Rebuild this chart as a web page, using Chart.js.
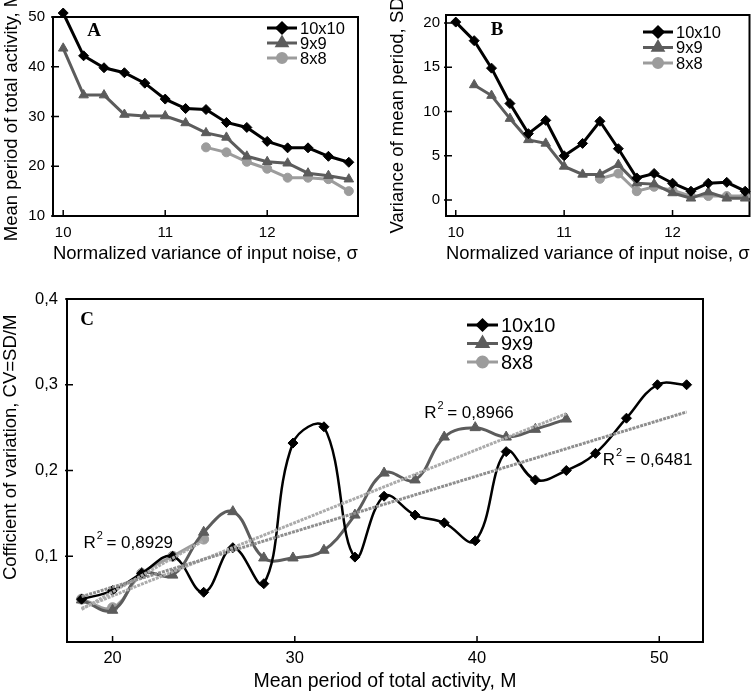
<!DOCTYPE html>
<html>
<head>
<meta charset="utf-8">
<script src="https://cdn.jsdelivr.net/npm/chart.js@4.4.1/dist/chart.umd.min.js"></script>
<style>
    html, body { margin: 0; padding: 0; background: #fff; }
    #wrap { position: relative; width: 756px; height: 694px; overflow: hidden; }
    canvas { position: absolute; }
    #chartA { left: 0; top: 0; }
    #chartB { left: 378px; top: 0; }
    #chartC { left: 0; top: 280px; }
</style>
</head>
<body>
<div id="wrap">
    <canvas id="chartA" width="378" height="270"></canvas>
    <canvas id="chartB" width="378" height="270"></canvas>
    <canvas id="chartC" width="756" height="414"></canvas>
</div>
<script>
// Panel A - mean period vs noise variance
const sigmaA = [10.0, 10.2, 10.4, 10.6, 10.8, 11.0, 11.2, 11.4, 11.6, 11.8, 12.0, 12.2, 12.4, 12.6, 12.8];
const periodA10 = [50.8, 42.2, 39.8, 38.8, 36.7, 33.5, 31.6, 31.4, 28.8, 27.8, 25.0, 23.7, 23.7, 22.0, 20.8];
const periodA9 = [43.7, 34.3, 34.3, 30.4, 30.1, 30.1, 28.7, 26.7, 25.8, 22.0, 20.9, 20.6, 18.6, 18.1, 17.4];
const periodA8 = [null, null, null, null, null, null, null, 23.8, 22.8, 20.9, 19.5, 17.7, 17.7, 17.4, 15.0];
const ticksAx = [10, 11, 12];
const ticksAy = [10, 20, 30, 40, 50];

// Panel B - SD of mean period vs noise variance
const sigmaB = [10.0, 10.17, 10.33, 10.5, 10.67, 10.83, 11.0, 11.17, 11.33, 11.5, 11.67, 11.83, 12.0, 12.17, 12.33, 12.5, 12.67];
const sdB10 = [20.1, 18.0, 14.9, 10.9, 7.5, 9.0, 5.0, 6.4, 8.9, 5.8, 2.5, 3.0, 1.9, 1.0, 1.9, 2.0, 1.0];
const sdB9 = [null, 13.0, 11.8, 9.2, 6.8, 6.4, 3.8, 2.9, 2.9, 4.0, 1.9, 1.8, 0.8, 0.2, 0.9, 0.2, 0.2];
const sdB8 = [null, null, null, null, null, null, null, null, 2.4, 3.0, 1.0, 1.5, 1.1, 0.45, 0.45, 0.45, 0.45];
const ticksBx = [10, 11, 12];
const ticksBy = [0, 5, 10, 15, 20];

// Panel C - coefficient of variation vs mean period
const periodC10 = [18.3, 20.0, 21.6, 23.3, 25.0, 26.6, 28.3, 29.9, 31.6, 33.3, 34.9, 36.6, 38.2, 39.9, 41.6, 43.2, 44.9, 46.5, 48.2, 49.9, 51.5];
const cvC10 = [0.05, 0.06, 0.08, 0.10, 0.058, 0.11, 0.068, 0.232, 0.251, 0.099, 0.17, 0.148, 0.139, 0.118, 0.222, 0.189, 0.20, 0.22, 0.261, 0.30, 0.30];
const periodC9 = [18.3, 20.0, 21.6, 23.3, 25.0, 26.6, 28.3, 29.9, 31.6, 33.3, 34.9, 36.6, 38.2, 39.9, 41.6, 43.2, 44.9];
const cvC9 = [0.049, 0.037, 0.08, 0.078, 0.128, 0.152, 0.098, 0.098, 0.107, 0.148, 0.197, 0.189, 0.239, 0.25, 0.239, 0.248, 0.26];
const periodC8 = [18.3, 20.0, 21.6, 23.3, 25.0];
const cvC8 = [0.05, 0.04, 0.08, 0.10, 0.12];
const r2Labels = ['0,6481', '0,8966', '0,8929'];
const ticksCx = [20, 30, 40, 50];
const ticksCy = [0.1, 0.2, 0.3, 0.4];

const BLACK = '#000000';
const DARK = '#5c5c5c';
const LIGHT = '#9c9c9c';
const FONT = '"Liberation Sans", Arial, sans-serif';

Chart.defaults.font.family = FONT;
Chart.defaults.font.size = 15;
Chart.defaults.color = '#000';

function series(label, xs, ys, color, style, radius, width, tension) {
    return {
        label,
        data: xs.map((x, i) => ({ x, y: ys[i] })),
        borderColor: color,
        backgroundColor: color,
        pointBackgroundColor: color,
        pointBorderColor: color,
        pointStyle: style,
        pointRadius: radius,
        pointBorderWidth: 1,
        borderWidth: width,
        tension: tension || 0,
        clip: false
    };
}

// least squares line over the series' x range
function trend(xs, ys, color, r2, labelAt) {
    const pts = xs.map((x, i) => [x, ys[i]]).filter(p => p[1] != null);
    const n = pts.length;
    const mx = pts.reduce((s, p) => s + p[0], 0) / n;
    const my = pts.reduce((s, p) => s + p[1], 0) / n;
    let sxy = 0, sxx = 0;
    pts.forEach(p => { sxy += (p[0] - mx) * (p[1] - my); sxx += (p[0] - mx) ** 2; });
    const b = sxy / sxx;
    const x0 = pts[0][0], x1 = pts[n - 1][0];
    return {
        label: 'trend',
        isTrend: true,
        r2, labelAt,
        data: [{ x: x0, y: my + b * (x0 - mx) }, { x: x1, y: my + b * (x1 - mx) }],
        borderColor: color,
        borderWidth: 3,
        borderDash: [3, 1],
        pointRadius: 0,
        clip: false
    };
}

// box round the plot with inward tick marks
const framePlugin = {
    id: 'frame',
    beforeDatasetsDraw(chart) {
        const { ctx, chartArea: a, scales } = chart;
        ctx.save();
        ctx.strokeStyle = '#000';
        ctx.lineWidth = 2;
        ctx.strokeRect(a.left, a.top, a.right - a.left, a.bottom - a.top);
        ctx.lineWidth = 1.5;
        ctx.beginPath();
        scales.x.ticks.forEach(t => {
            const px = scales.x.getPixelForValue(t.value);
            ctx.moveTo(px, a.bottom);
            ctx.lineTo(px, a.bottom - 6);
        });
        scales.y.ticks.forEach(t => {
            const py = scales.y.getPixelForValue(t.value);
            ctx.moveTo(a.left - 2, py);
            ctx.lineTo(a.left + 6, py);
        });
        ctx.stroke();
        ctx.restore();
    }
};

// panel letter, legend and R² notes
const notesPlugin = {
    id: 'notes',
    afterDraw(chart, args, opts) {
        const { ctx, chartArea: a, scales } = chart;
        ctx.save();
        ctx.fillStyle = '#000';
        ctx.font = 'bold 19px "Liberation Serif", "Times New Roman", serif';
        ctx.textAlign = 'center';
        ctx.textBaseline = 'middle';
        ctx.fillText(opts.letter, a.left + opts.letterAt[0], a.top + opts.letterAt[1]);

        const lg = opts.legend;
        ctx.font = lg.size + 'px ' + FONT;
        ctx.textAlign = 'left';
        chart.data.datasets.filter(d => !d.isTrend).forEach((d, i) => {
            const y = lg.y + i * lg.row;
            ctx.strokeStyle = d.borderColor;
            ctx.fillStyle = d.borderColor;
            ctx.lineWidth = 3;
            ctx.beginPath();
            ctx.moveTo(lg.x, y);
            ctx.lineTo(lg.x + lg.len, y);
            ctx.stroke();
            Chart.helpers.drawPoint(ctx, { pointStyle: d.pointStyle, radius: d.pointRadius, borderWidth: 1 }, lg.x + lg.len / 2, y);
            ctx.fillStyle = '#000';
            ctx.fillText(d.label, lg.x + lg.len + 3, y + 1);
        });

        chart.data.datasets.filter(d => d.isTrend && d.r2).forEach(d => {
            const x = scales.x.getPixelForValue(d.labelAt[0]);
            const y = scales.y.getPixelForValue(d.labelAt[1]);
            ctx.fillStyle = '#000';
            ctx.font = '17px ' + FONT;
            ctx.fillText('R', x, y);
            const w = ctx.measureText('R').width;
            ctx.font = '11px ' + FONT;
            ctx.fillText('2', x + w + 1, y - 7);
            ctx.font = '17px ' + FONT;
            ctx.fillText(' = ' + d.r2, x + w + 6, y);
        });
        ctx.restore();
    }
};

function axis(cfg) {
    return {
        type: 'linear',
        min: cfg.min,
        max: cfg.max,
        afterBuildTicks: s => { s.ticks = cfg.ticks.map(v => ({ value: v })); },
        afterFit: s => {
            if (cfg.width) s.width = cfg.width;
            if (cfg.height) s.height = cfg.height;
        },
        grid: { display: false, drawTicks: false },
        border: { display: false },
        ticks: {
            padding: cfg.pad,
            font: { size: cfg.tickSize || 15 },
            callback: cfg.fmt || (v => v)
        },
        title: {
            display: true,
            text: cfg.title,
            font: { size: cfg.titleSize || 18.5 },
            padding: cfg.titlePad
        }
    };
}

function makeChart(id, datasets, scales, layout, notes) {
    return new Chart(document.getElementById(id), {
        type: 'line',
        data: { datasets },
        options: {
            responsive: false,
            animation: false,
            layout: { padding: layout },
            plugins: { legend: { display: false }, tooltip: { enabled: false }, notes },
            scales
        },
        plugins: [framePlugin, notesPlugin]
    });
}

makeChart('chartA', [
    series('10x10', sigmaA, periodA10, BLACK, 'rectRot', 5, 3),
    series('9x9', sigmaA, periodA9, DARK, 'triangle', 5.5, 3),
    series('8x8', sigmaA, periodA8, LIGHT, 'circle', 4.5, 3)
], {
    x: axis({ min: 9.9, max: 12.89, ticks: ticksAx, height: 54, pad: 8,
        title: 'Normalized variance of input noise, σ', titlePad: { top: 0, bottom: 5 } }),
    y: axis({ min: 10, max: 50, ticks: ticksAy, width: 53, pad: 8,
        title: 'Mean period of total activity, M', titlePad: { top: 1, bottom: 0 } })
}, { top: 14, right: 20, left: 0, bottom: 0 }, {
    letter: 'A', letterAt: [41, 14],
    legend: { x: 267, y: 28, row: 15, len: 30, size: 16.5 }
});

makeChart('chartB', [
    series('10x10', sigmaB, sdB10, BLACK, 'rectRot', 5, 3),
    series('9x9', sigmaB, sdB9, DARK, 'triangle', 5.5, 3),
    series('8x8', sigmaB, sdB8, LIGHT, 'circle', 4.5, 3)
], {
    x: axis({ min: 9.91, max: 12.71, ticks: ticksBx, height: 54, pad: 8,
        title: 'Normalized variance of input noise, σ', titlePad: { top: 0, bottom: 5 } }),
    y: axis({ min: -1.8, max: 20.9, ticks: ticksBy, width: 68, pad: 6,
        title: 'Variance of mean period, SD', titlePad: { top: 9, bottom: 0 } })
}, { top: 13, right: 6, left: 0, bottom: 0 }, {
    letter: 'B', letterAt: [51, 15],
    legend: { x: 265, y: 32, row: 15.5, len: 30, size: 16.5 }
});

makeChart('chartC', [
    trend(periodC10, cvC10, '#8f8f8f', r2Labels[0], [46.9, 0.212]),
    trend(periodC9, cvC9, '#ababab', r2Labels[1], [37.1, 0.267]),
    trend(periodC8, cvC8, '#ababab', r2Labels[2], [18.4, 0.115]),
    series('10x10', periodC10, cvC10, BLACK, 'rectRot', 5, 2.5, 0.4),
    series('9x9', periodC9, cvC9, DARK, 'triangle', 6, 3, 0.4),
    series('8x8', periodC8, cvC8, LIGHT, 'circle', 5, 3, 0.4)
], {
    x: axis({ min: 17.5, max: 52.4, ticks: ticksCx, height: 52, pad: 7, tickSize: 16.5, titleSize: 19.5,
        title: 'Mean period of total activity, M', titlePad: { top: 0, bottom: 1 } }),
    // leading spaces lift the rotated title a little above the plot centre
    y: axis({ min: 0, max: 0.4, ticks: ticksCy, width: 67, pad: 9, tickSize: 16.5, titleSize: 18.5,
        fmt: v => v.toFixed(1).replace('.', ','),
        title: '         Cofficient of variation, CV=SD/M', titlePad: { top: 0, bottom: 0 } })
}, { top: 19, right: 53, left: 0, bottom: 0 }, {
    letter: 'C', letterAt: [20, 21],
    legend: { x: 467, y: 45, row: 18.5, len: 31, size: 20 }
});
</script>
</body>
</html>
